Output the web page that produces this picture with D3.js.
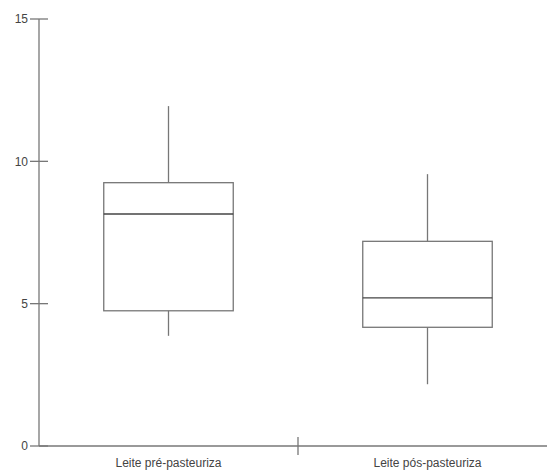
<!DOCTYPE html>
<html><head><meta charset="utf-8">
<script src="https://cdn.jsdelivr.net/npm/d3@7"></script>
<style>body{margin:0;background:#fff}svg{display:block}text{font-family:"Liberation Sans",Arial,sans-serif}</style>
</head><body><svg id="c" width="547" height="471"></svg>
<script>
const categories = ["Leite pré-pasteuriza", "Leite pós-pasteuriza"];
const whiskerLow = [3.87, 2.17];
const q1 = [4.75, 4.17];
const median = [8.15, 5.2];
const q3 = [9.25, 7.19];
const whiskerHigh = [11.94, 9.55];
const yTicks = [0, 5, 10, 15];

const svg = d3.select("#c");
const y = d3.scaleLinear().domain([0, 15]).range([446, 19]);
const x = d3.scaleBand().domain(categories).range([39, 557]).padding(0);
const boxW = x.bandwidth() * 0.5;
const stroke = "#777";

// y axis
const ya = svg.append("g");
ya.append("line").attr("x1", 39).attr("x2", 39).attr("y1", y(15)).attr("y2", y(0)).attr("stroke", stroke).attr("stroke-width", 1.3);
yTicks.forEach(t => {
  ya.append("line").attr("x1", 30).attr("x2", 48).attr("y1", y(t)).attr("y2", y(t)).attr("stroke", stroke).attr("stroke-width", 1.3);
  ya.append("text").attr("x", 28).attr("y", y(t)).attr("dy", "0.35em").attr("text-anchor", "end")
    .attr("font-size", 12).attr("fill", "#444").text(t);
});

// x axis
const xa = svg.append("g");
xa.append("line").attr("x1", 39).attr("x2", 557).attr("y1", y(0)).attr("y2", y(0)).attr("stroke", stroke).attr("stroke-width", 1.3);
categories.forEach((c, i) => {
  if (i > 0) xa.append("line").attr("x1", x(c)).attr("x2", x(c)).attr("y1", y(0) - 9).attr("y2", y(0) + 9).attr("stroke", stroke).attr("stroke-width", 1.3);
  xa.append("text").attr("x", x(c) + x.bandwidth() / 2).attr("y", 467).attr("text-anchor", "middle")
    .attr("font-size", 12).attr("fill", "#444").text(c);
});

// boxes
categories.forEach((c, i) => {
  const cx = x(c) + x.bandwidth() / 2;
  const g = svg.append("g");
  g.append("line").attr("x1", cx).attr("x2", cx).attr("y1", y(whiskerHigh[i])).attr("y2", y(q3[i])).attr("stroke", stroke).attr("stroke-width", 1.3);
  g.append("line").attr("x1", cx).attr("x2", cx).attr("y1", y(q1[i])).attr("y2", y(whiskerLow[i])).attr("stroke", stroke).attr("stroke-width", 1.3);
  g.append("rect").attr("x", cx - boxW / 2).attr("width", boxW).attr("y", y(q3[i])).attr("height", y(q1[i]) - y(q3[i]))
    .attr("fill", "none").attr("stroke", stroke).attr("stroke-width", 1.3);
  g.append("line").attr("x1", cx - boxW / 2).attr("x2", cx + boxW / 2).attr("y1", y(median[i])).attr("y2", y(median[i])).attr("stroke", "#444").attr("stroke-width", 1.3);
});
</script></body></html>
